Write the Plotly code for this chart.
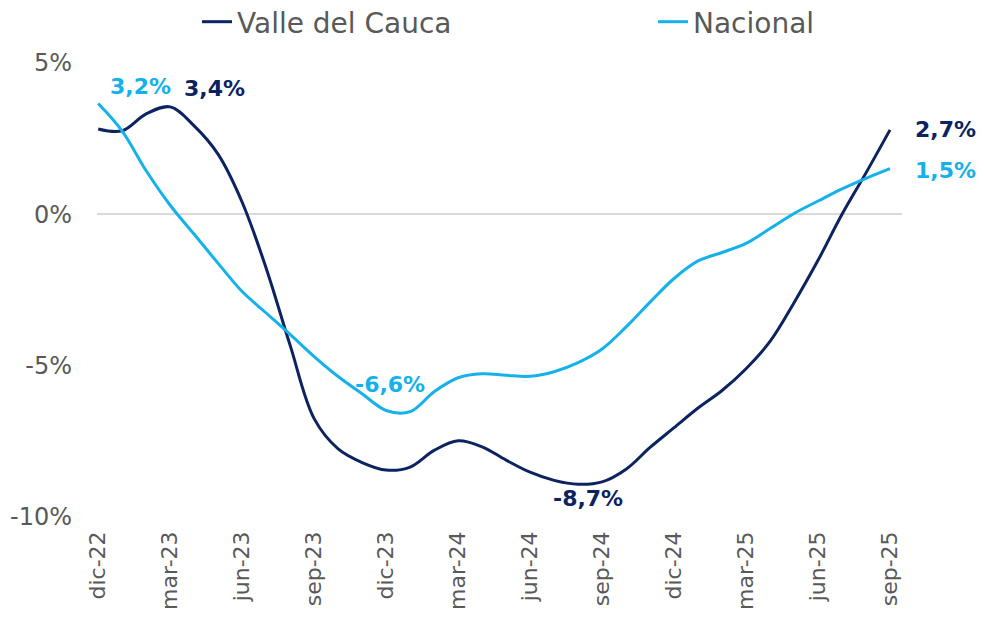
import plotly.graph_objects as go

months = ["dic-22", "ene-23", "feb-23", "mar-23", "abr-23", "may-23", "jun-23", "jul-23", "ago-23",
          "sep-23", "oct-23", "nov-23", "dic-23", "ene-24", "feb-24", "mar-24", "abr-24", "may-24",
          "jun-24", "jul-24", "ago-24", "sep-24", "oct-24", "nov-24", "dic-24", "ene-25", "feb-25",
          "mar-25", "abr-25", "may-25", "jun-25", "jul-25", "ago-25", "sep-25"]

valle = [2.82, 2.76, 3.32, 3.55, 2.92, 1.98, 0.40, -1.78, -4.33, -6.75, -7.75, -8.20,
         -8.45, -8.35, -7.80, -7.48, -7.68, -8.12, -8.52, -8.79, -8.92, -8.84, -8.42, -7.70,
         -7.05, -6.40, -5.82, -5.10, -4.20, -2.92, -1.52, 0.00, 1.37, 2.79]

nacional = [3.66, 2.75, 1.44, 0.30, -0.66, -1.62, -2.55, -3.26, -3.97, -4.70, -5.36, -5.93,
            -6.48, -6.52, -5.86, -5.40, -5.27, -5.32, -5.35, -5.20, -4.90, -4.45, -3.72, -2.90,
            -2.12, -1.54, -1.26, -0.96, -0.47, 0.03, 0.44, 0.84, 1.19, 1.51]

tick_months = months[::3]
y_ticks = [-10, -5, 0, 5]
y_ticktext = ["-10%", "-5%", "0%", "5%"]

# data labels: (month index, text)
labels_valle = [(3, "3,4%"), (20, "-8,7%"), (33, "2,7%")]
labels_nac = [(0, "3,2%"), (12, "-6,6%"), (33, "1,5%")]

C_VALLE = "#0B2361"
C_NAC = "#14B1EA"
GREY = "#595959"
FONT = "DejaVu Sans"

x = list(range(len(months)))

fig = go.Figure()
fig.add_trace(go.Scatter(x=x, y=valle, mode="lines", name="Valle del Cauca", legend="legend",
                         line=dict(color=C_VALLE, width=3, shape="spline", smoothing=1.0)))
fig.add_trace(go.Scatter(x=x, y=nacional, mode="lines", name="Nacional", legend="legend2",
                         line=dict(color=C_NAC, width=3, shape="spline", smoothing=1.0)))

# label offsets in px (xshift, yshift; positive y = up)
shift_v = {3: (44, 18), 20: (10, -14), 33: (55, 0)}
shift_n = {0: (42, 17), 12: (4, 26), 33: (55, -2)}
for i, t in labels_valle:
    dx, dy = shift_v[i]
    fig.add_annotation(x=i, y=valle[i], text=t, showarrow=False, xshift=dx, yshift=dy,
                       font=dict(family=FONT, size=22, color=C_VALLE, weight="bold"))
for i, t in labels_nac:
    dx, dy = shift_n[i]
    fig.add_annotation(x=i, y=nacional[i], text=t, showarrow=False, xshift=dx, yshift=dy,
                       font=dict(family=FONT, size=22, color=C_NAC, weight="bold"))

legend_common = dict(orientation="h", xref="container", yref="container", y=1 - 14 / 627,
                     yanchor="middle", xanchor="left", font=dict(family=FONT, size=28, color=GREY),
                     itemwidth=30, bgcolor="rgba(0,0,0,0)")

fig.update_layout(
    width=984, height=627,
    margin=dict(l=89, r=90, t=55, b=118, autoexpand=False),
    paper_bgcolor="white", plot_bgcolor="white",
    font=dict(family=FONT, color=GREY),
    showlegend=True,
    legend=dict(x=189 / 984, **legend_common),
    legend2=dict(x=645 / 984, **legend_common),
    xaxis=dict(range=[-0.05, 33.5], tickmode="array", tickvals=list(range(0, len(months), 3)),
               ticktext=tick_months, tickangle=-90, showgrid=False, zeroline=False,
               showline=False, ticks="", tickfont=dict(family=FONT, size=22, color=GREY),
               ticklabelstandoff=9),
    yaxis=dict(range=[-10, 5], tickmode="array", tickvals=y_ticks, ticktext=y_ticktext,
               showgrid=False, zeroline=True, zerolinecolor="#D9D9D9", zerolinewidth=2,
               showline=False, ticks="", tickfont=dict(family=FONT, size=24, color=GREY),
               ticklabelstandoff=24),
)

fig.write_html("out.html")
